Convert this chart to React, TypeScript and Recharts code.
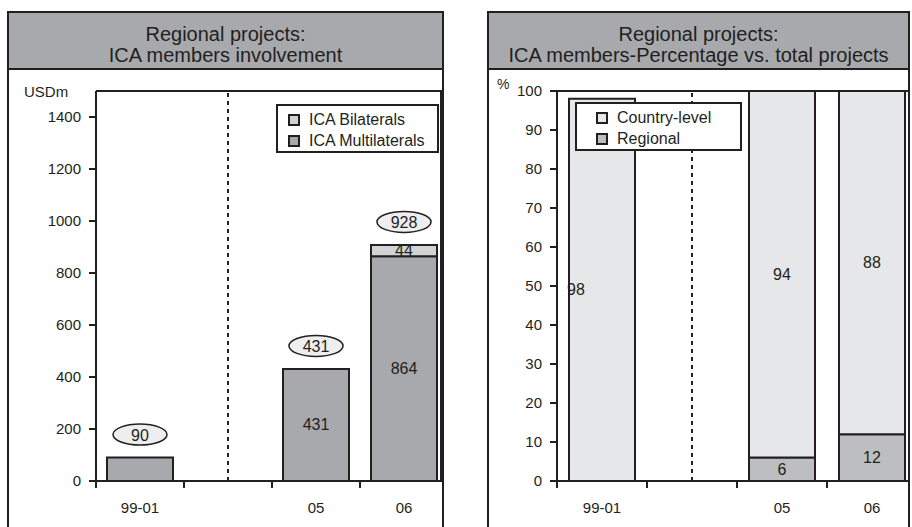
import React from 'react';
import { BarChart, Bar, XAxis, YAxis, ReferenceLine, LabelList, Legend } from 'recharts';

const INK = '#231f20';
const FONT = '"Liberation Sans", Arial, sans-serif';

const periods = ['99-01', 'gap', '05', '06'];

// left panel: USDm
const icaMultilaterals = [90, null, 431, 864];
const icaBilaterals = [0, null, 0, 44];
const totalBubbles = ['90', null, '431', '928'];
const multiInside = [false, false, true, true];
const usdTicks = [0, 200, 400, 600, 800, 1000, 1200, 1400];

// right panel: % of total projects
const countryLevel = [98, null, 94, 88];
const regional = [0, null, 6, 12];
const pctTicks = [0, 10, 20, 30, 40, 50, 60, 70, 80, 90, 100];

const usdData = periods.map((p, i) => ({
  period: p,
  multi: icaMultilaterals[i],
  bi: icaBilaterals[i],
  bubble: totalBubbles[i],
  multiLabel: multiInside[i] ? icaMultilaterals[i] : null,
}));

const pctData = periods.map((p, i) => ({
  period: p,
  country: countryLevel[i],
  regional: regional[i],
}));

const XTick = ({ x, y, payload }: any) => {
  const half = payload?.offset ?? 0;
  const label = payload.value === 'gap' ? '' : payload.value;
  return (
    <g>
      <line x1={x - half} x2={x - half} y1={y - 21} y2={y - 14} stroke={INK} strokeWidth={2} />
      <text x={x} y={y} dy="0.71em" textAnchor="middle" fontSize={15} fill={INK} fontFamily={FONT}>
        {label}
      </text>
    </g>
  );
};

const box = (p: any) => {
  const vb = p.viewBox && p.viewBox.width !== undefined ? p.viewBox : p;
  return { x: Number(vb.x), y: Number(vb.y), w: Number(vb.width), h: Number(vb.height) };
};

const rowOf = (e: any) => e?.payload ?? e;

// plain value in the middle of a segment; dx moves it sideways
const centerLabel = (field: string, dx?: (row: any) => number) => (p: any) => {
  const row = p.value;
  const v = row ? row[field] : null;
  if (v === null || v === undefined || v === 0) return null;
  const { x, y, w, h } = box(p);
  return (
    <text
      x={x + w / 2 + (dx ? dx(row) : 0)}
      y={y + h / 2}
      textAnchor="middle"
      dominantBaseline="central"
      fontSize={16}
      fill={INK}
      fontFamily={FONT}
    >
      {v}
    </text>
  );
};

// total bubble sits above the whole stack; drawn from the bottom segment
const Bubble = (p: any) => {
  const row = p.value;
  if (!row || !row.bubble) return null;
  const { x, y, w, h } = box(p);
  const topSeg = row.multi ? (h * (row.bi || 0)) / row.multi : 0;
  const cx = x + w / 2;
  const cy = y - topSeg - 23;
  return (
    <g>
      <ellipse cx={cx} cy={cy} rx={27} ry={10.5} fill="#eeeeef" stroke={INK} strokeWidth={1.5} />
      <text x={cx} y={cy + 1} textAnchor="middle" dominantBaseline="central" fontSize={16} fill={INK} fontFamily={FONT}>
        {row.bubble}
      </text>
    </g>
  );
};

const legendBox = (width: number, padLeft: number) => (props: any) => {
  const items = [...(props.payload || [])].sort((a: any, b: any) =>
    String(a.value).localeCompare(String(b.value))
  );
  return (
    <div
      style={{
        width,
        height: 49,
        boxSizing: 'border-box',
        border: `2px solid ${INK}`,
        background: '#fff',
        paddingTop: 3,
        paddingLeft: padLeft,
        fontFamily: FONT,
        fontSize: 16,
        color: INK,
      }}
    >
      {items.map((it: any) => (
        <div key={it.value} style={{ display: 'flex', alignItems: 'center', height: 21 }}>
          <span
            style={{
              width: 12,
              height: 12,
              boxSizing: 'border-box',
              border: `2px solid ${INK}`,
              background: it.color || it.payload?.fill,
              marginRight: 9,
            }}
          />
          <span>{it.value}</span>
        </div>
      ))}
    </div>
  );
};

const Panel = ({ left, width, lines }: { left: number; width: number; lines: string[] }) => (
  <div
    style={{
      position: 'absolute',
      left,
      top: 11,
      width,
      height: 540,
      boxSizing: 'border-box',
      border: `2px solid ${INK}`,
    }}
  >
    <div
      style={{
        height: 57,
        boxSizing: 'border-box',
        background: '#a7a9ac',
        borderBottom: `2px solid ${INK}`,
        paddingTop: 11,
        textAlign: 'center',
        fontSize: 20,
        lineHeight: '21px',
        color: INK,
        whiteSpace: 'nowrap',
      }}
    >
      {lines.map((l) => (
        <div key={l}>{l}</div>
      ))}
    </div>
  </div>
);

const axisStyle = { stroke: INK, strokeWidth: 2 };

export default function App() {
  return (
    <div
      style={{
        position: 'absolute',
        left: 0,
        top: 0,
        width: 912,
        height: 527,
        overflow: 'hidden',
        background: '#fff',
        fontFamily: FONT,
      }}
    >
      <Panel left={7} width={437} lines={['Regional projects:', 'ICA members involvement']} />
      <Panel left={487} width={423} lines={['Regional projects:', 'ICA members-Percentage vs. total projects']} />

      <div style={{ position: 'absolute', left: 24, top: 83, fontSize: 15, color: INK }}>USDm</div>
      <div style={{ position: 'absolute', left: 497, top: 76, fontSize: 14, color: INK }}>%</div>

      {/* left chart */}
      <div style={{ position: 'absolute', left: 0, top: 0, width: 442, height: 527, overflow: 'hidden' }}>
        <BarChart width={452} height={527} data={usdData} margin={{ top: 91, right: 4, bottom: 6, left: 36 }}>
          <XAxis
            dataKey="period"
            interval={0}
            axisLine={axisStyle}
            tickLine={false}
            tickSize={7}
            tickMargin={14}
            tick={<XTick />}
            height={40}
          />
          <YAxis
            width={60}
            domain={[0, 1500]}
            ticks={usdTicks}
            axisLine={axisStyle}
            tickLine={axisStyle}
            tickSize={7}
            tickMargin={8}
            tick={{ fontSize: 15, fill: INK, fontFamily: FONT }}
          />
          <ReferenceLine y={1500} stroke={INK} strokeWidth={2} />
          <ReferenceLine x="gap" stroke={INK} strokeWidth={2} strokeDasharray="4 4" />
          <Legend
            layout="vertical"
            align="center"
            verticalAlign="middle"
            wrapperStyle={{ left: 276, top: 104, width: 163 }}
            content={legendBox(163, 10)}
          />
          <Bar dataKey="multi" name="ICA Multilaterals" stackId="a" barSize={66} fill="#a7a9ac" stroke={INK} strokeWidth={2} isAnimationActive={false}>
            <LabelList valueAccessor={rowOf} content={centerLabel('multiLabel')} />
            <LabelList valueAccessor={rowOf} content={Bubble} />
          </Bar>
          <Bar dataKey="bi" name="ICA Bilaterals" stackId="a" barSize={66} fill="#d1d3d4" stroke={INK} strokeWidth={2} isAnimationActive={false}>
            <LabelList valueAccessor={rowOf} content={centerLabel('bi')} />
          </Bar>
        </BarChart>
      </div>
      <div style={{ position: 'absolute', left: 440, top: 90, width: 2, height: 392, background: INK }} />

      {/* right chart */}
      <div style={{ position: 'absolute', left: 490, top: 0, width: 418, height: 527, overflow: 'hidden' }}>
        <BarChart width={430} height={527} data={pctData} margin={{ top: 91, right: 3, bottom: 6, left: 17 }}>
          <XAxis
            dataKey="period"
            interval={0}
            axisLine={axisStyle}
            tickLine={false}
            tickSize={7}
            tickMargin={14}
            tick={<XTick />}
            height={40}
          />
          <YAxis
            width={50}
            domain={[0, 100]}
            ticks={pctTicks}
            axisLine={axisStyle}
            tickLine={axisStyle}
            tickSize={7}
            tickMargin={8}
            tick={{ fontSize: 15, fill: INK, fontFamily: FONT }}
          />
          <ReferenceLine y={100} stroke={INK} strokeWidth={2} />
          <ReferenceLine x="gap" stroke={INK} strokeWidth={2} strokeDasharray="4 4" />
          <Bar dataKey="regional" name="Regional" stackId="b" barSize={66} fill="#bcbec0" stroke={INK} strokeWidth={2} isAnimationActive={false}>
            <LabelList valueAccessor={rowOf} content={centerLabel('regional')} />
          </Bar>
          <Bar dataKey="country" name="Country-level" stackId="b" barSize={66} fill="#e6e7e8" stroke={INK} strokeWidth={2} isAnimationActive={false}>
            <LabelList
              valueAccessor={rowOf}
              content={centerLabel('country', (row) => (row.period === '99-01' ? -26 : 0))}
            />
          </Bar>
          <Legend
            layout="vertical"
            align="center"
            verticalAlign="middle"
            wrapperStyle={{ left: 85, top: 102, width: 167 }}
            content={legendBox(167, 19)}
          />
        </BarChart>
      </div>
    </div>
  );
}
